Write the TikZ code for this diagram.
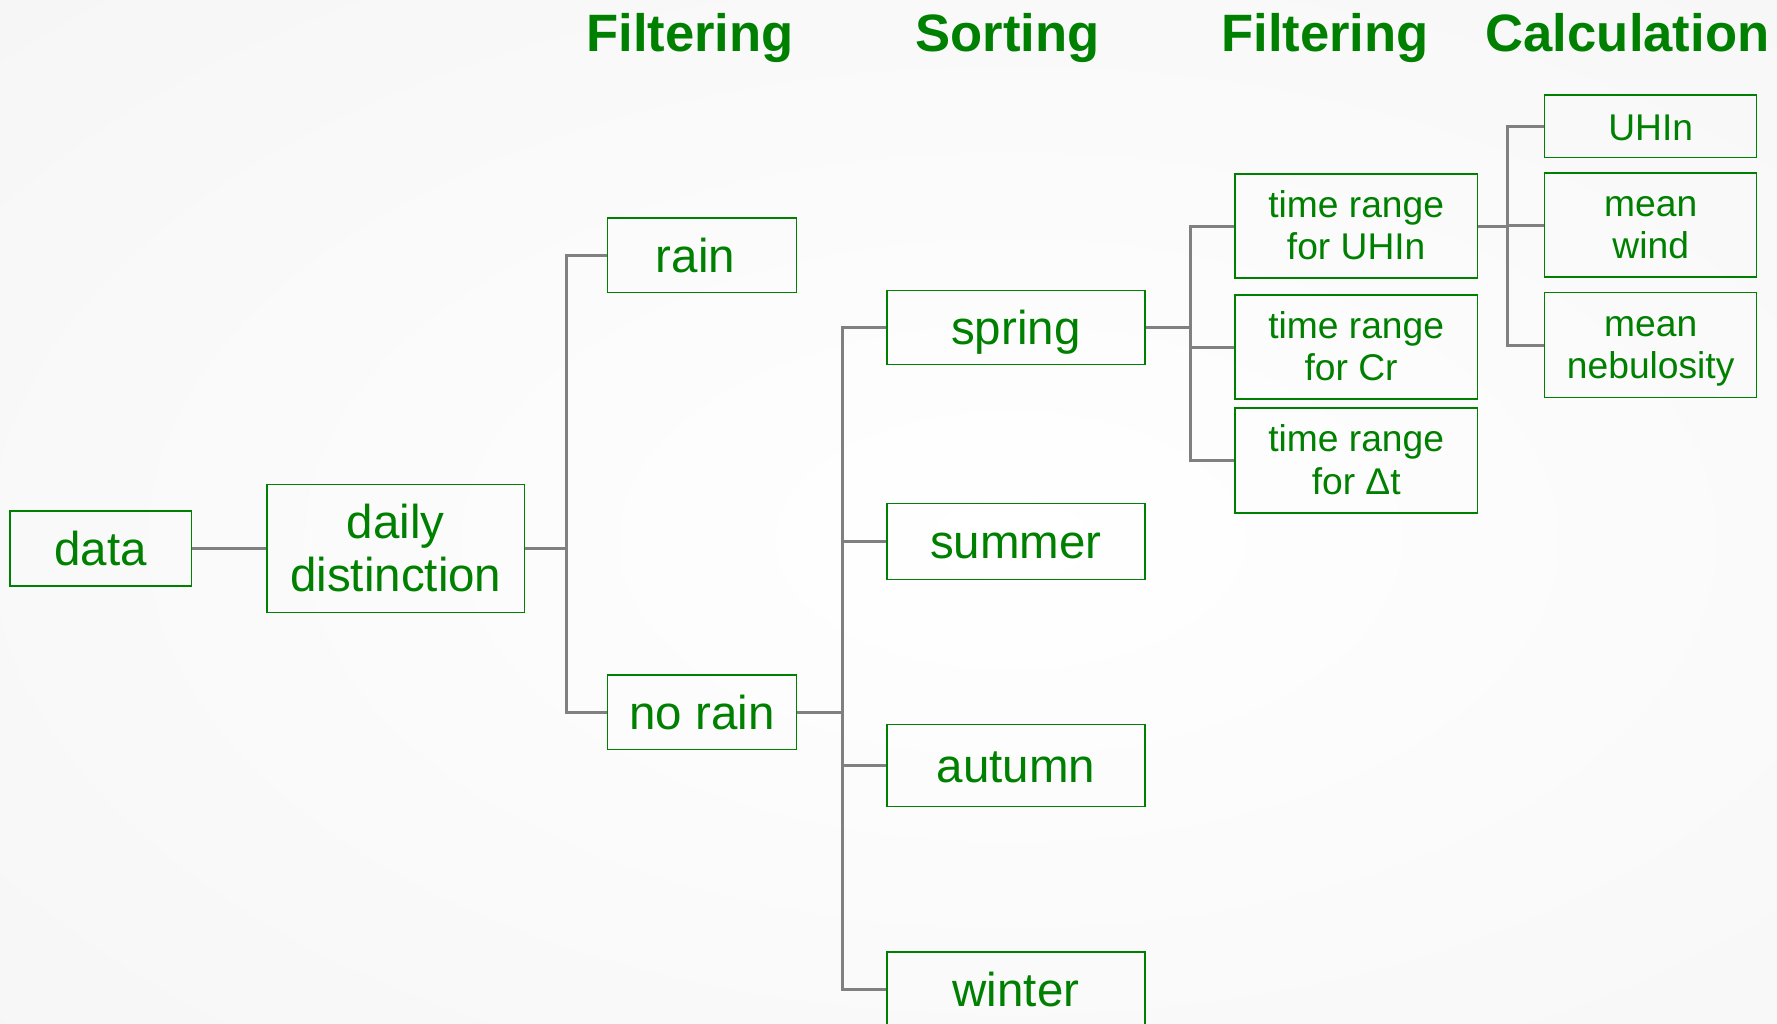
\documentclass[tikz,border=0pt]{standalone}
\usepackage{fontspec}
\setmainfont{Liberation Sans}
\definecolor{boxgreen}{RGB}{0,128,0}
\definecolor{linegray}{RGB}{128,128,128}
\begin{document}
\begin{tikzpicture}[x=1pt,y=-1pt]
  \tikzstyle{box}=[draw=boxgreen, line width=1.5pt, text=boxgreen, inner sep=0pt, align=center, font=\fontsize{47.5}{53.3}\selectfont]
  \tikzstyle{onebox}=[box, text height=34pt, text depth=0pt]
  \tikzstyle{smallbox}=[box, font=\fontsize{37.2}{42.7}\selectfont, minimum width=242.4pt, minimum height=104pt, text height=68pt, text depth=0.6pt]
  \tikzstyle{calcbox}=[smallbox, minimum width=212pt]
  \tikzstyle{seasonbox}=[onebox, minimum width=257.7pt]
  \tikzstyle{rainbox}=[onebox, minimum width=189.4pt, minimum height=74.5pt]
  \tikzstyle{header}=[text=boxgreen, anchor=base, font=\fontsize{52.6}{60}\selectfont\bfseries]
  \tikzstyle{conn}=[draw=linegray, line width=3pt]
  \useasboundingbox (0,0) rectangle (1777,1023);
  \clip (0,0) rectangle (1777,1023);
  \shade[inner color=white, outer color=black!5] (-990,-560) rectangle (3010,1640);

  \node[header] (filt1) at (690,51.7) {Filtering};
  \node[header] (sort) at (1007.5,51.7) {Sorting};
  \node[header] (filt2) at (1325,51.7) {Filtering};
  \node[header] (calc) at (1627.5,51.7) {Calculation};

  \node[onebox, minimum width=181.3pt, minimum height=74.7pt] (data) at (100.8,548.5) {data};
  \node[box, minimum width=257.6pt, minimum height=128.3pt, text height=87.4pt, text depth=1pt] (daily) at (395.8,548.5) {daily\\distinction};
  \node[rainbox] (rain) at (702,255.3) {rain\kern0.278em};
  \node[rainbox] (norain) at (702,712) {no rain};
  \node[seasonbox, minimum height=74.4pt] (spring) at (1015.9,327.5) {spring};
  \node[seasonbox, minimum height=75.6pt] (summer) at (1015.9,541.5) {summer};
  \node[seasonbox, minimum height=81.6pt] (autumn) at (1015.9,765.5) {autumn};
  \node[seasonbox, minimum height=75pt] (winter) at (1015.9,989.5) {winter};
  \node[smallbox] (truhin) at (1356.2,226) {time range\\for UHIn};
  \node[smallbox] (trcr) at (1356.2,347) {time range\\for Cr\kern0.278em};
  \node[smallbox, minimum height=105pt] (trdt) at (1356.2,460.5) {time range\\for Δt};
  \node[calcbox, minimum height=62.5pt, text height=28pt, text depth=0pt] (uhin) at (1650.7,126.3) {UHIn};
  \node[calcbox] (wind) at (1650.7,225.2) {mean\\wind};
  \node[calcbox, minimum height=105pt] (nebul) at (1650.7,345.2) {mean\\nebulosity};

  \draw[conn] (data.east) -- (daily.west);
  \draw[conn] (daily.east) -- ++(41.5,0) coordinate (j1);
  \draw[conn] (rain.west) -| (j1) |- (norain.west);
  \draw[conn] (norain.east) -- ++(45.3,0) coordinate (j2);
  \draw[conn] (spring.west) -| (j2) |- (winter.west);
  \draw[conn] (summer.west) -- (summer.west -| j2);
  \draw[conn] (autumn.west) -- (autumn.west -| j2);
  \draw[conn] (spring.east) -- ++(45.3,0) coordinate (j3);
  \draw[conn] (truhin.west) -| (j3) |- (trdt.west);
  \draw[conn] (trcr.west) -- (trcr.west -| j3);
  \draw[conn] (truhin.east) -- ++(29,0) coordinate (j4);
  \draw[conn] (uhin.west) -| (j4) |- (nebul.west);
  \draw[conn] (wind.west) -- (wind.west -| j4);
\end{tikzpicture}
\end{document}
